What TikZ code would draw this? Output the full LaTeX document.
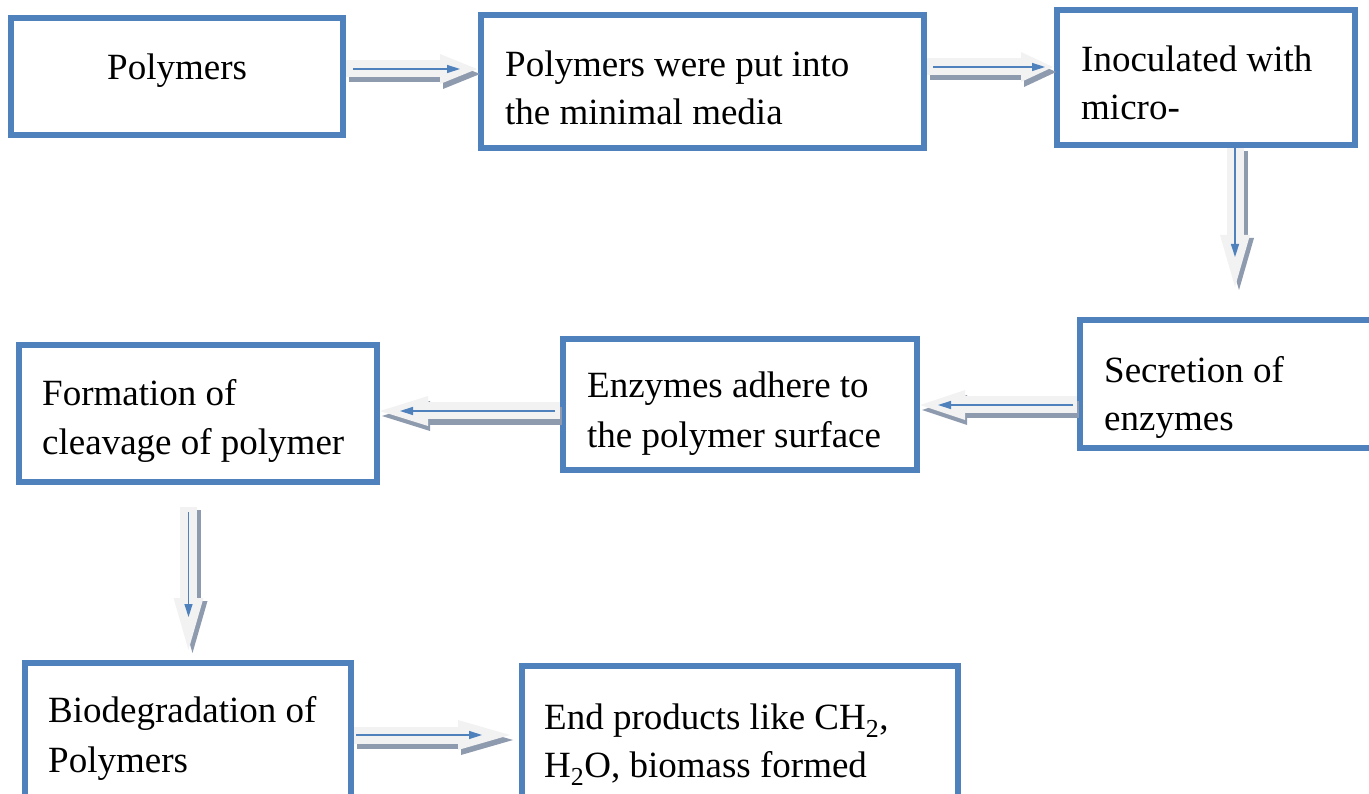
\documentclass[tikz,border=0pt]{standalone}
\usepackage{fontspec}
\setmainfont{Liberation Serif}
\usetikzlibrary{arrows.meta}
\definecolor{boxblue}{HTML}{4F81BD}
\definecolor{arrowfill}{HTML}{F2F2F2}
\definecolor{arrowshade}{HTML}{8E9AAD}

\tikzset{
  stepbox/.style={draw=boxblue, line width=6pt, fill=white, inner sep=0pt},
  txt/.style={anchor=base west, inner sep=0pt, font=\fontsize{37}{44}\selectfont},
  arrowbody/.style={draw=arrowfill, line width=17pt},
  arrowshadow/.style={draw=arrowshade, line width=17pt},
  arrowline/.style={draw=boxblue, line width=1.4pt, -{Triangle[length=13pt 0 0, width=8pt 0 0]}},
}

% block arrow with shadow and thin inner arrow
% #1 start, #2 end, #3 shadow shift, #4 head length,
% #5/#6 body start/end shortening, #7/#8 inner arrow start/end shortening
\newcommand\flowarrow[8]{%
  \draw[arrowshadow, transform canvas={shift={#3}}, shorten <=#5pt, shorten >=#6pt,
        -{Triangle[length=#4pt 0 0, width=30pt 0 0, line width=0pt]}] #1 -- #2;
  \draw[arrowbody, shorten <=#5pt, shorten >=#6pt,
        -{Triangle[length=#4pt 0 0, width=30pt 0 0, line width=0pt]}] #1 -- #2;
  \draw[arrowline, shorten <=#7pt, shorten >=#8pt] #1 -- #2;
}

\begin{document}
\begin{tikzpicture}[x=1pt, y=-1pt]
\useasboundingbox (0,0) rectangle (1369,794);
\clip (0,0) rectangle (1369,794);

% boxes
\node[stepbox, minimum width=332pt, minimum height=117pt] (b1) at (177,76.5) {};
\node[stepbox, minimum width=443pt, minimum height=133pt] (b2) at (702.5,81.5) {};
\node[stepbox, minimum width=298pt, minimum height=135pt] (b3) at (1206,77.5) {};
\node[stepbox, minimum width=320pt, minimum height=128pt] (b4) at (1240,384) {};
\node[stepbox, minimum width=354pt, minimum height=131pt] (b5) at (740,404.5) {};
\node[stepbox, minimum width=358pt, minimum height=137pt] (b6) at (198,413.5) {};
\node[stepbox, minimum width=326pt, minimum height=167pt] (b7) at (188,746.5) {};
\node[stepbox, minimum width=436pt, minimum height=164pt] (b8) at (740,748) {};

% texts
\node[txt] (t1) at (107,80) {Polymers};
\node[txt] (t2a) at (505,77) {Polymers were put into};
\node[txt] (t2b) at (505,125) {the minimal media};
\node[txt] (t3a) at (1081,72) {Inoculated with};
\node[txt] (t3b) at (1081,120) {micro-};
\node[txt] (t4a) at (1104,383) {Secretion of};
\node[txt] (t4b) at (1104,431) {enzymes};
\node[txt] (t5a) at (587,398) {Enzymes adhere to};
\node[txt] (t5b) at (587,447) {the polymer surface};
\node[txt] (t6a) at (42,406) {Formation of};
\node[txt] (t6b) at (42,454) {cleavage of polymer};
\node[txt] (t7a) at (48,722) {Biodegradation of};
\node[txt] (t7b) at (48,772) {Polymers};
\node[txt] (t8a) at (544,729) {End products like CH\textsubscript{2},};
\node[txt] (t8b) at (544,777) {H\textsubscript{2}O, biomass formed};

% connectors
\flowarrow{(b1.east |- 0,69)}{(b2.west |- 0,69)}{(3,5)}{37}{0}{1}{7}{18}
\flowarrow{(b2.east |- 0,67)}{(b3.west |- 0,67)}{(3,5)}{32}{0}{1}{6}{9}
\flowarrow{(b3.south -| 1235,0)}{(b4.north -| 1235,0)}{(4,3)}{52}{0}{30}{0}{60}
\flowarrow{(b4.west |- 0,405)}{(b5.east |- 0,405)}{(2,5)}{45}{0}{0}{4}{18}
\flowarrow{(b5.west |- 0,411)}{(b6.east |- 0,411)}{(2,5)}{48}{0}{0}{5}{20}
\flowarrow{(b6.south -| 188.5,0)}{(b7.north -| 188.5,0)}{(4,3)}{52}{22}{10}{27}{43}
\flowarrow{(b7.east |- 0,735)}{(b8.west |- 0,735)}{(3,5)}{52}{0}{9}{2}{37}
\end{tikzpicture}
\end{document}
